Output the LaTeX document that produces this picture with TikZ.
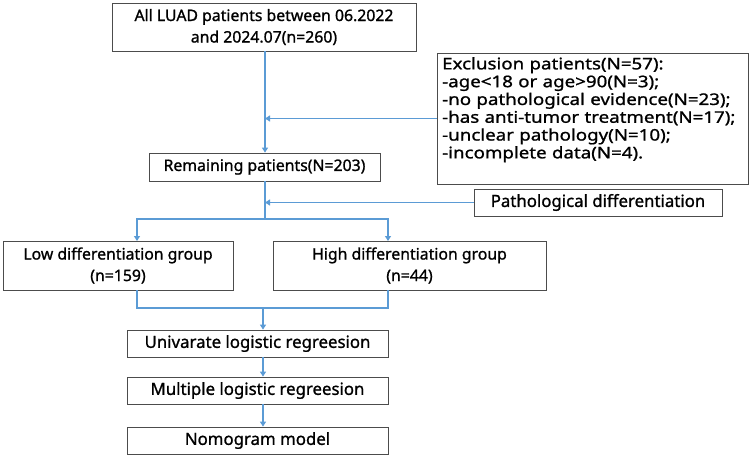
\documentclass[tikz,border=0pt]{standalone}
\usepackage{fontspec}
\setmainfont{Noto Sans}[FakeBold=1.1]
\newfontfamily\widefont{Noto Sans}[FakeStretch=1.17,FakeBold=1.1]
\usetikzlibrary{arrows.meta}
\definecolor{lineblue}{RGB}{91,155,213}
\begin{document}
\begin{tikzpicture}[x=1pt,y=-1pt,
  box/.style={draw=black!70, line width=0.8pt, inner sep=0pt, align=center,
    font=\fontsize{15.8}{21.5}\selectfont},
  bigtext/.style={font=\fontsize{16.8}{21}\selectfont},
  conn/.style={draw=lineblue, line width=1.8pt},
  arr/.style={conn, -{Triangle[width=6pt,length=5pt]}}]
\useasboundingbox (0,0) rectangle (752,458);
\node[box, minimum width=304pt, minimum height=48pt] (top) at (264,27)
  {All LUAD patients between 06.2022\\and 2024.07(n=260)};
\node[box, minimum width=231pt, minimum height=28pt] (rem) at (264.5,167)
  {Remaining patients(N=203)};
\node[box, minimum width=311pt, minimum height=131pt] (exc) at (592.5,118.5) {};
\node[anchor=north west, inner sep=0pt, text width=301pt, align=left,
  font=\widefont\fontsize{16}{17.8}\selectfont] (exctext) at (442,57)
  {Exclusion patients(N=57):\\-age<18 or age>90(N=3);\\-no pathological evidence(N=23);\\-has anti-tumor treatment(N=17);\\-unclear pathology(N=10);\\-incomplete data(N=4).};
\node[box, bigtext, minimum width=248pt, minimum height=27pt] (pat) at (598,202.5)
  {Pathological differentiation};
\node[box, minimum width=230pt, minimum height=49pt] (low) at (118,265.5)
  {Low differentiation group\\(n=159)};
\node[box, minimum width=273pt, minimum height=49pt] (high) at (409.5,265.5)
  {High differentiation group\\(n=44)};
\node[box, bigtext, minimum width=261pt, minimum height=27pt] (uni) at (257.5,343.5)
  {Univarate logistic regreesion};
\node[box, bigtext, minimum width=261pt, minimum height=27pt] (mul) at (257.5,390.5)
  {Multiple logistic regreesion};
\node[box, bigtext, minimum width=261pt, minimum height=27pt] (nom) at (257.5,440.5)
  {Nomogram model};
\coordinate (j1) at (265,118.5);
\coordinate (j2) at (265,202.5);
\coordinate (split) at (265,219);
\coordinate (merge) at (263,308);
\draw[arr] (top.south -| j1) -- (rem.north -| j1);
\draw[arr] (exc.west) -- (j1);
\draw[arr] (pat.west) -- (j2);
\draw[conn] (rem.south -| j1) -- (split);
\draw[arr] (split) -| (137,241);
\draw[arr] (split) -| (388,241);
\draw[conn] (137,290) |- (merge);
\draw[conn] (388,290) |- (merge);
\draw[arr] (merge) -- (uni.north -| merge);
\draw[arr] (uni.south -| merge) -- (mul.north -| merge);
\draw[arr] (mul.south -| merge) -- (nom.north -| merge);
\end{tikzpicture}
\end{document}
